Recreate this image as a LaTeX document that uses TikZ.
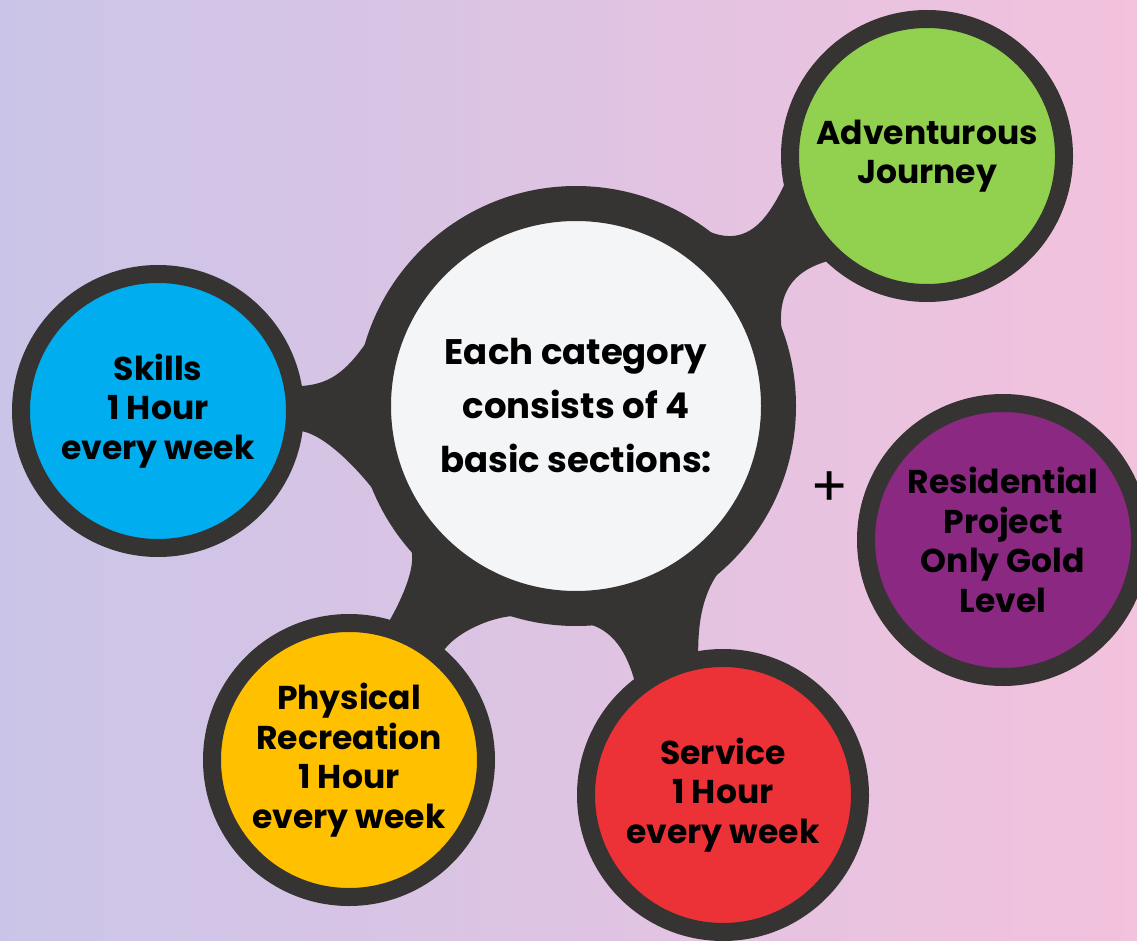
\documentclass[tikz,border=0pt]{standalone}
\usepackage{fontspec}
\setmainfont{Poppins}
\usetikzlibrary{calc}
\definecolor{ringc}{HTML}{363433}
\definecolor{hubc}{HTML}{F4F5F7}
\definecolor{bgleft}{RGB}{202,197,232}
\definecolor{bgright}{RGB}{243,194,221}
\definecolor{bluec}{HTML}{00AEEF}
\definecolor{greenc}{HTML}{92D050}
\definecolor{yellowc}{HTML}{FFC000}
\definecolor{redc}{HTML}{EC3237}
\definecolor{purplec}{RGB}{138,40,130}
\newcommand\bubblefont{\fontsize{33}{39.5}\selectfont\bfseries}
\newcommand\hubfont{\fontsize{35.5}{54}\selectfont\bfseries}
\pgfdeclarelayer{bglayer}
\pgfdeclarelayer{connlayer}
\pgfsetlayers{bglayer,connlayer,main}
\tikzset{
  bubble/.style={circle, draw=ringc, line width=18, minimum size=274, inner sep=0pt, align=center, font=\bubblefont, text=black},
  hub/.style={circle, draw=ringc, line width=35, minimum size=405, fill=hubc, inner sep=0pt, align=center, font=\hubfont, text=black},
  conn/.style={fill=ringc},
}
\begin{document}
\begin{tikzpicture}[x=1pt,y=-1pt]
\useasboundingbox (0,0) rectangle (1137,941);
\begin{pgfonlayer}{bglayer}
  \shade[left color=bgleft, right color=bgright] (0,0) rectangle (1137,941);
\end{pgfonlayer}

\node[hub] (W) at (576,406) {Each category\\consists of 4\\basic sections:};
\node[bubble, fill=bluec] (B) at (158,411) {Skills\\1 Hour\\every week};
\node[bubble, fill=greenc] (G) at (927,156) {Adventurous\\Journey};
\node[bubble, fill=yellowc] (Y) at (349,760) {Physical\\Recreation\\1 Hour\\every week};
\node[bubble, fill=redc] (R) at (723,795) {Service\\1 Hour\\every week};
\node[bubble, fill=purplec] (P) at (1003,540) {Residential\\Project\\Only Gold\\Level};
\node[font=\fontsize{56}{60}\selectfont, text=black] (plus) at (830,489) {+};

\begin{pgfonlayer}{connlayer}
  % hub -- skills
  \fill[conn] ($(B.center)+(-10:143)$) .. controls +(-3:40) and +(117:110) .. ($(W.center)+(219.6:217)$)
     -- ($(W.center)+(140:217)$) .. controls +(243:60) and +(5:30) .. ($(B.center)+(8:143)$) -- cycle;
  % hub -- adventurous journey
  \fill[conn] ($(G.center)+(170:143)$) .. controls +(115:50) and +(33:60) .. ($(W.center)+(-58:217)$)
     -- ($(W.center)+(-15:217)$) .. controls +(-105:55) and +(165:40) .. ($(G.center)+(133:143)$) -- cycle;
  % hub -- physical recreation
  \fill[conn] ($(Y.center)+(-74:143)$) .. controls +(-60:25) and +(63:20) .. ($(W.center)+(140:217)$)
     -- ($(W.center)+(105:217)$) .. controls +(180:30) and +(-60:20) .. ($(Y.center)+(-49:143)$) -- cycle;
  % hub -- service
  \fill[conn] ($(R.center)+(232:143)$) .. controls +(-105:30) and +(10:30) .. ($(W.center)+(88:217)$)
     -- ($(W.center)+(45:217)$) .. controls +(135:40) and +(-90:30) .. ($(R.center)+(260:143)$) -- cycle;
\end{pgfonlayer}
\end{tikzpicture}
\end{document}
